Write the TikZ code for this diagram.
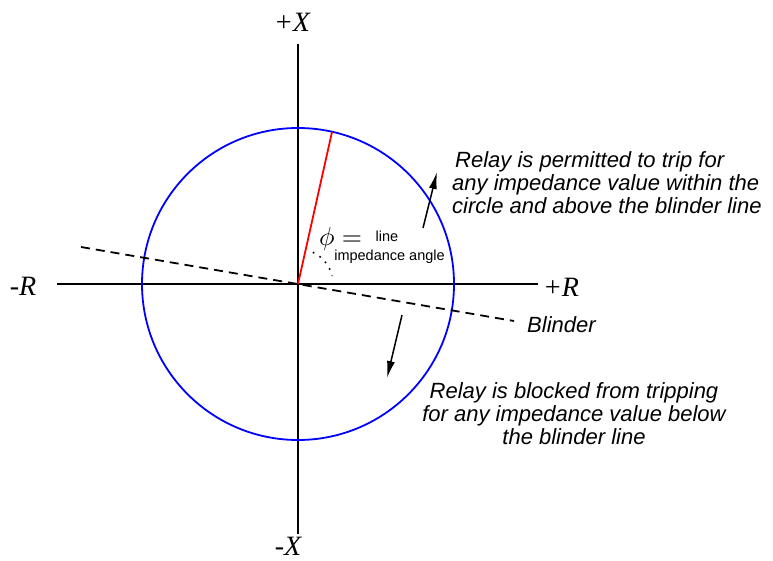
\documentclass[tikz,border=0pt]{standalone}
\usepackage{graphicx}
\usepackage{fontspec}
\setmainfont{Liberation Serif}
\setsansfont{Liberation Sans}
\usetikzlibrary{arrows.meta}
\begin{document}
\begin{tikzpicture}[x=1pt,y=-1pt,
  axisline/.style={line width=1.8pt, black},
  lbl/.style={font=\fontsize{28}{30}\selectfont\itshape, inner sep=0pt},
  note/.style={font=\sffamily\itshape\fontsize{22}{23}\selectfont, inner sep=0pt},
  smalltxt/.style={font=\sffamily\fontsize{14.5}{16}\selectfont, inner sep=0pt},
  pointer/.style={line width=1.5pt, -{Latex[length=17pt,width=8pt]}},
  blinderline/.style={line width=1.8pt, dash pattern=on 9pt off 6pt},
  locus/.style={line width=1.8pt, blue},
  impline/.style={line width=1.8pt, red},
  anglemark/.style={line width=1.6pt, dash pattern=on 1.6pt off 6.2pt}]
\useasboundingbox (0,0) rectangle (773,561);
% coordinates
\coordinate (O) at (298,284);
\coordinate (xtop) at (298,44);
\coordinate (xbot) at (298,534);
\coordinate (rleft) at (57,284);
\coordinate (rright) at (538,284);
\coordinate (bl1) at (81,247);
\coordinate (bl2) at (514,321);
\coordinate (P) at (332,132);
\coordinate (u1) at (423,228);
\coordinate (u2) at (437,172);
\coordinate (d1) at (402,315);
\coordinate (d2) at (387,378);
% axes
\draw[axisline] (xtop) -- (xbot);
\draw[axisline] (rleft) -- (rright);
% circle
\draw[locus] (O) circle[radius=156pt];
% blinder
\draw[blinderline] (bl1) -- (bl2);
% impedance line
\draw[impline] (O) -- (P);
% angle mark
\draw[anglemark] plot[domain=65:13, samples=60, smooth] ({298+35*cos(\x)},{284-35*sin(\x)});
% arrows
\draw[pointer] (u1) -- (u2);
\draw[pointer] (d1) -- (d2);
% axis labels
\node[lbl, anchor=base] (lpx) at (292,32) {+X};
\node[lbl, anchor=base] (lmx) at (288,555) {-X};
\node[lbl, anchor=base] (lmr) at (23,295) {-R};
\node[lbl, anchor=base] (lpr) at (561,296) {+R};
% phi label
\node[anchor=base west, inner sep=0pt] (phi) at (319,246) {\scalebox{2.6}{$\phi =$}};
\node[smalltxt, anchor=base] (lline) at (387,241) {line};
\node[smalltxt, anchor=base] (lang) at (389.5,261) {impedance angle};
% notes
\node[note, anchor=north west, align=left] (up) at (452,151) {\hspace{3pt}Relay is permitted to trip for\\any impedance value within the\\circle and above the blinder line};
\node[note, anchor=north, align=center] (down) at (574,382) {Relay is blocked from tripping\\for any impedance value below\\the blinder line};
\node[note, anchor=base west] (blab) at (527,332) {Blinder};
\end{tikzpicture}
\end{document}
